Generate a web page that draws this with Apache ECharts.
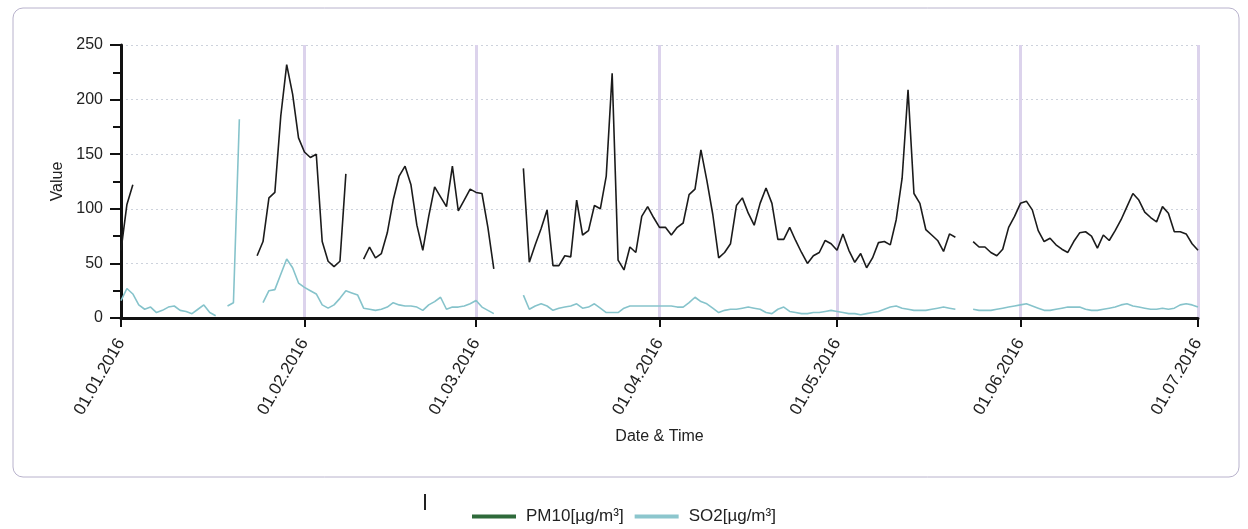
<!DOCTYPE html>
<html>
<head>
<meta charset="utf-8">
<script src="https://cdn.jsdelivr.net/npm/echarts@6/dist/echarts.min.js"></script>
<style>
  html, body { margin: 0; padding: 0; background: #ffffff; }
  #chart { width: 1248px; height: 529px; }
</style>
</head>
<body>
<div id="chart"></div>
<script>
// Daily readings, 01.01.2016 to 01.07.2016 (183 days); null = no data
const startDate = [2016, 0, 1];
const dayCount = 183;

const pm10 = [
  62, 104, 122, null, null, null, null, null, null, null,
  null, null, null, null, null, null, null, null, null, null,
  null, null, null, 57, 70, 110, 115, 185, 232, 205,
  165, 152, 147, 150, 70, 52, 47, 52, 132, null,
  null, 54, 65, 55, 59, 78, 108, 130, 139, 122,
  85, 62, 93, 120, 111, 102, 139, 98, 108, 118,
  115, 114, 83, 45, null, null, null, null, 137, 51,
  67, 82, 99, 48, 48, 57, 56, 108, 76, 80,
  103, 100, 130, 224, 53, 44, 65, 60, 93, 102,
  92, 83, 83, 76, 83, 87, 113, 118, 154, 126,
  95, 55, 60, 68, 103, 110, 96, 85, 105, 119,
  105, 72, 72, 83, 71, 60, 50, 57, 60, 71,
  68, 62, 77, 62, 51, 59, 46, 55, 69, 70,
  67, 90, 128, 209, 114, 105, 81, 76, 71, 61,
  77, 74, null, null, 70, 65, 65, 60, 57, 63,
  83, 93, 105, 107, 99, 80, 70, 73, 67, 63,
  60, 70, 78, 79, 75, 64, 76, 71, 80, 90,
  102, 114, 108, 97, 92, 88, 102, 96, 79, 79,
  77, 68, 62
];

const so2 = [
  16, 27, 22, 12, 8, 10, 5, 7, 10, 11,
  7, 6, 4, 8, 12, 5, 2, null, 11, 14,
  182, null, null, null, 14, 25, 26, 40, 54, 46,
  32, 28, 25, 22, 12, 9, 12, 18, 25, 23,
  21, 9, 8, 7, 8, 10, 14, 12, 11, 11,
  10, 7, 12, 15, 19, 8, 10, 10, 11, 13,
  16, 10, 7, 4, null, null, null, null, 21, 8,
  11, 13, 11, 7, 9, 10, 11, 13, 9, 10,
  13, 9, 5, 5, 5, 9, 11, 11, 11, 11,
  11, 11, 11, 11, 10, 10, 14, 19, 15, 13,
  9, 5, 7, 8, 8, 9, 10, 9, 8, 5,
  4, 8, 10, 6, 5, 4, 4, 5, 5, 6,
  7, 6, 5, 4, 4, 3, 4, 5, 6, 8,
  10, 11, 9, 8, 7, 7, 7, 8, 9, 10,
  9, 8, null, null, 8, 7, 7, 7, 8, 9,
  10, 11, 12, 13, 11, 9, 7, 7, 8, 9,
  10, 10, 10, 8, 7, 7, 8, 9, 10, 12,
  13, 11, 10, 9, 8, 8, 9, 8, 9, 12,
  13, 12, 10
];

const seriesNames = ['PM10[µg/m³]', 'SO2[µg/m³]'];
const yTicks = [0, 50, 100, 150, 200, 250];

// dd.MM.yyyy category for each day
const pad = n => (n < 10 ? '0' : '') + n;
const days = [];
for (let i = 0; i < dayCount; i++) {
  const d = new Date(Date.UTC(startDate[0], startDate[1], startDate[2] + i));
  days.push(pad(d.getUTCDate()) + '.' + pad(d.getUTCMonth() + 1) + '.' + d.getUTCFullYear());
}
const isMonthStart = (idx) => days[idx] && days[idx].slice(0, 3) === '01.';

const chart = echarts.init(document.getElementById('chart'), null, { renderer: 'canvas' });
const font = 'Liberation Sans, Arial, sans-serif';

chart.setOption({
  animation: false,
  backgroundColor: '#ffffff',
  textStyle: { fontFamily: font },
  graphic: [
    {
      type: 'rect', silent: true,
      shape: { x: 13, y: 8, width: 1226, height: 469, r: 10 },
      style: { fill: 'none', stroke: '#b8b2cc', lineWidth: 1 }
    },
    {
      type: 'rect', silent: true,
      shape: { x: 424, y: 494, width: 2, height: 16 },
      style: { fill: '#222222' }
    }
  ],
  grid: { left: 121, right: 50, top: 45, bottom: 211, containLabel: false },
  legend: {
    left: 467, top: 503,
    itemWidth: 44, itemHeight: 4, itemGap: 11,
    icon: 'rect',
    textStyle: { fontSize: 17, color: '#222', fontFamily: font, padding: [0, 0, 0, 5] },
    data: [
      { name: seriesNames[0], itemStyle: { color: '#2e6a3a' } },
      { name: seriesNames[1], itemStyle: { color: '#8cc6cd' } }
    ]
  },
  xAxis: {
    type: 'category',
    data: days,
    boundaryGap: false,
    name: 'Date & Time',
    nameLocation: 'middle',
    nameGap: 111,
    nameTextStyle: { fontSize: 16, color: '#222' },
    axisLine: { show: true, lineStyle: { color: '#111', width: 3 } },
    axisTick: { show: true, interval: isMonthStart, length: 9, lineStyle: { color: '#111', width: 2 } },
    axisLabel: {
      interval: isMonthStart,
      rotate: 60, margin: 22,
      fontSize: 17, color: '#222',
      showMinLabel: true, showMaxLabel: true
    },
    splitLine: { show: true, interval: isMonthStart, lineStyle: { color: '#dcd3ec', width: 3 } }
  },
  yAxis: {
    type: 'value',
    min: yTicks[0], max: yTicks[yTicks.length - 1], interval: 50,
    name: 'Value',
    nameLocation: 'middle',
    nameGap: 48,
    nameRotate: 90,
    nameTextStyle: { fontSize: 16, color: '#222' },
    axisLine: { show: true, lineStyle: { color: '#111', width: 3 } },
    axisTick: { show: true, length: 11, lineStyle: { color: '#111', width: 2 } },
    minorTick: { show: true, splitNumber: 2, length: 8, lineStyle: { color: '#111', width: 2 } },
    axisLabel: { fontSize: 16, color: '#222', margin: 18 },
    splitLine: { show: true, lineStyle: { color: '#cdd2dc', width: 1, type: [2, 3] } }
  },
  series: [
    {
      name: seriesNames[0], type: 'line', data: pm10,
      showSymbol: false, connectNulls: false, z: 3,
      lineStyle: { color: '#1b1b1b', width: 1.6 },
      itemStyle: { color: '#2e6a3a' }
    },
    {
      name: seriesNames[1], type: 'line', data: so2,
      showSymbol: false, connectNulls: false, z: 2,
      lineStyle: { color: '#86c3cb', width: 1.6 },
      itemStyle: { color: '#8cc6cd' }
    }
  ]
});
</script>
</body>
</html>
